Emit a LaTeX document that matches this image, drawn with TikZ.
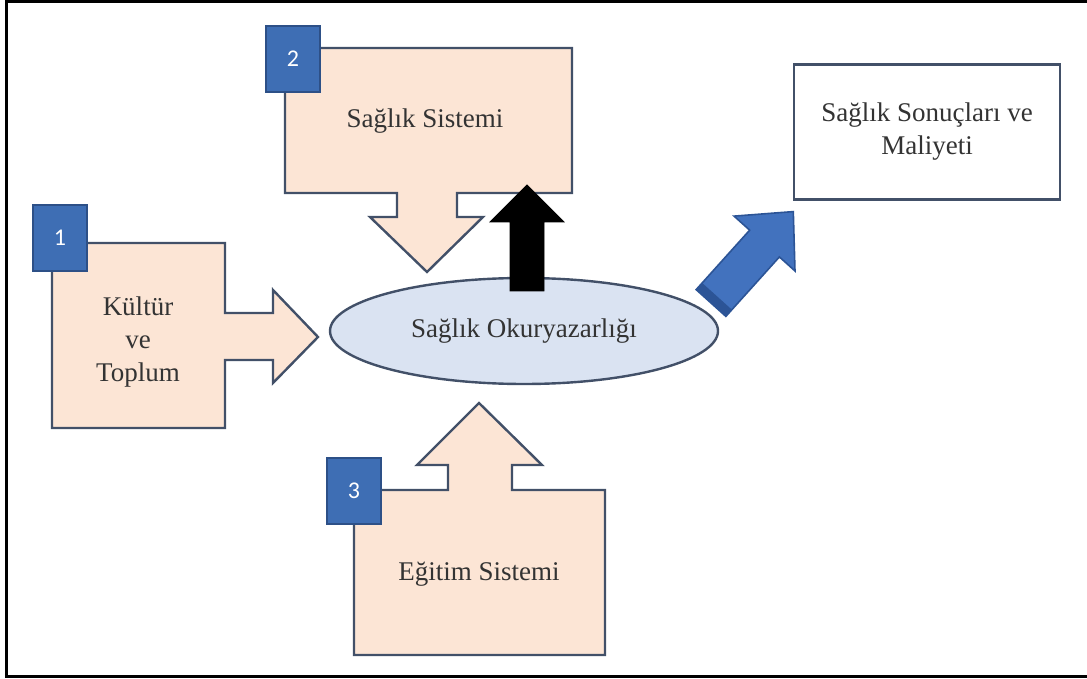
\documentclass[tikz,border=0pt]{standalone}
\usepackage{fontspec}
\setmainfont{Liberation Serif}
\newfontfamily\numfont{Carlito}
\usetikzlibrary{shapes.geometric}
\definecolor{peach}{RGB}{252,229,213}
\definecolor{edge}{RGB}{66,80,104}
\definecolor{numblue}{RGB}{62,110,180}
\definecolor{numedge}{RGB}{45,80,135}
\definecolor{oval}{RGB}{218,227,242}
\definecolor{flow}{RGB}{66,114,190}
\definecolor{flowdark}{RGB}{44,84,150}

\begin{document}
\begin{tikzpicture}[x=0.5pt, y=-0.5pt,
  block/.style = {draw=edge, fill=peach, line width=1.2pt},
  numbox/.style = {draw=numedge, fill=numblue, line width=0.8pt, minimum width=27pt,
    minimum height=33pt, inner sep=0pt, text=white, font=\numfont\fontsize{12}{14}\selectfont},
  txt/.style = {align=center, font=\fontsize{13.5}{16.5}\selectfont, text=black!80}]
  \useasboundingbox (0,0) rectangle (1087,679);
  \draw[line width=1.5pt] (1090,2) -- (6,2) -- (6,676) -- (1090,676);

  \draw[block] (52,243) -- (225,243) -- (225,313) -- (273,313) -- (273,290) -- (318,337)
    -- (273,383) -- (273,360) -- (225,360) -- (225,428) -- (52,428) -- cycle;
  \node[txt] (kultur) at (138,342) {Kültür\\ve\\Toplum};
  \node[numbox] (n1) at (60,238) {1};

  \draw[block] (285,48) -- (572,48) -- (572,193) -- (457,193) -- (457,217) -- (483,217)
    -- (427,272) -- (370,217) -- (397,217) -- (397,193) -- (285,193) -- cycle;
  \node[txt] (saglik) at (425,121) {Sağlık Sistemi};
  \node[numbox] (n2) at (293,59) {2};

  \draw[block] (354,490) -- (448,490) -- (448,465) -- (417,465) -- (479,403) -- (542,465)
    -- (512,465) -- (512,490) -- (605,490) -- (605,655) -- (354,655) -- cycle;
  \node[txt] (egitim) at (479,574) {Eğitim Sistemi};
  \node[numbox] (n3) at (354,491) {3};

  \node[ellipse, draw=edge, fill=oval, line width=1.2pt, minimum width=194pt,
    minimum height=53pt, txt] (okur) at (524,331) {Sağlık Okuryazarlığı};

  \draw[fill=black] (510,291) -- (510,222) -- (490,222) -- (527,185) -- (564,222)
    -- (544,222) -- (544,291) -- cycle;

  \node[draw=edge, fill=white, line width=1.2pt, minimum width=133pt, minimum height=67.5pt,
    txt] (sonuc) at (927,132) {Sağlık Sonuçları ve\\Maliyeti};

  \begin{scope}[shift={(711,303)}, rotate=48]
    \draw[draw=flowdark, fill=flow, line width=0.8pt] (0,-20) -- (80,-20) -- (80,-41)
      -- (123,0) -- (80,41) -- (80,20) -- (0,20) -- cycle;
    \fill[flowdark] (0,-20) rectangle (9,20);
  \end{scope}
\end{tikzpicture}
\end{document}
